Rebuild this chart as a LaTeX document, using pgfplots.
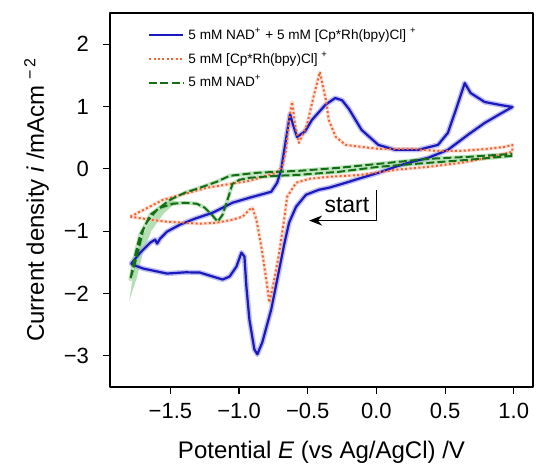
\documentclass[border=0pt]{standalone}
\usepackage{fontspec}
\setmainfont{Liberation Sans}
\usepackage{pgfplots}
\pgfplotsset{compat=1.18}
\usetikzlibrary{arrows.meta}

\definecolor{cvblue}{RGB}{25,25,190}
\definecolor{cvblueband}{RGB}{165,165,235}
\definecolor{cvorange}{RGB}{240,100,50}
\definecolor{cvgreen}{RGB}{20,110,20}
\definecolor{cvgreenband}{RGB}{130,200,130}

% NAD+ + Rh complex
\pgfplotstableread{
x y
0.014 -0.064
-0.108 -0.144
-0.224 -0.224
-0.347 -0.304
-0.419 -0.336
-0.513 -0.416
-0.585 -0.608
-0.636 -0.864
-0.672 -1.216
-0.708 -1.616
-0.766 -2.256
-0.831 -2.784
-0.867 -2.976
-0.889 -2.896
-0.925 -2.416
-0.947 -1.888
-0.961 -1.408
-0.983 -1.344
-1.019 -1.568
-1.069 -1.728
-1.120 -1.776
-1.192 -1.728
-1.286 -1.664
-1.390 -1.660
-1.525 -1.680
-1.698 -1.600
-1.777 -1.536
-1.785 -1.520
-1.720 -1.344
-1.647 -1.184
-1.611 -1.136
-1.597 -1.200
-1.575 -1.120
-1.525 -1.008
-1.431 -0.896
-1.322 -0.800
-1.192 -0.704
-1.048 -0.544
-0.925 -0.464
-0.766 -0.368
-0.723 -0.224
-0.694 -0.016
-0.665 0.384
-0.629 0.880
-0.607 0.704
-0.578 0.512
-0.520 0.600
-0.470 0.784
-0.370 1.030
-0.300 1.136
-0.250 1.100
-0.200 0.960
-0.108 0.624
0.014 0.384
0.137 0.304
0.303 0.304
0.448 0.384
0.520 0.576
0.578 0.944
0.643 1.376
0.686 1.216
0.788 1.072
0.903 1.024
0.990 0.992
0.900 0.880
0.788 0.736
0.665 0.544
0.520 0.304
0.376 0.176
0.231 0.096
0.137 0.032
0.014 -0.064
}\bluedata

% Rh complex only
\pgfplotstableread{
x y
-1.792 -0.768
-1.553 -0.496
-1.236 -0.304
-0.925 -0.192
-0.730 -0.064
-0.686 0.032
-0.658 0.304
-0.636 0.784
-0.614 1.072
-0.592 0.704
-0.564 0.416
-0.506 0.704
-0.455 1.184
-0.412 1.552
-0.368 1.104
-0.347 0.784
-0.296 0.512
-0.224 0.384
-0.108 0.352
0.014 0.320
0.253 0.320
0.448 0.288
0.614 0.288
0.809 0.320
0.932 0.352
0.990 0.384
0.990 0.272
0.809 0.176
0.614 0.096
0.376 0.032
0.137 -0.016
-0.108 -0.096
-0.347 -0.128
-0.491 -0.160
-0.585 -0.224
-0.650 -0.448
-0.672 -0.816
-0.708 -1.344
-0.744 -1.776
-0.780 -2.144
-0.802 -1.776
-0.838 -1.248
-0.874 -0.816
-0.903 -0.624
-0.925 -0.656
-0.975 -0.768
-1.048 -0.816
-1.163 -0.864
-1.286 -0.880
-1.525 -0.848
-1.647 -0.816
-1.792 -0.768
}\orangedata

% NAD+ only
\pgfplotstableread{
x y
0.990 0.208
0.665 0.144
0.376 0.096
0.014 0.032
-0.275 -0.048
-0.564 -0.096
-0.730 -0.112
-0.925 -0.144
-0.997 -0.176
-1.048 -0.240
-1.084 -0.496
-1.120 -0.736
-1.156 -0.848
-1.199 -0.736
-1.250 -0.624
-1.308 -0.560
-1.395 -0.544
-1.481 -0.560
-1.575 -0.624
-1.647 -0.736
-1.698 -0.976
-1.741 -1.376
-1.792 -1.776
-1.756 -1.376
-1.720 -1.056
-1.669 -0.848
-1.597 -0.656
-1.503 -0.496
-1.395 -0.384
-1.286 -0.304
-1.163 -0.208
-1.069 -0.112
-0.874 -0.064
-0.730 -0.048
-0.564 -0.032
-0.275 0.016
0.014 0.080
0.376 0.160
0.665 0.192
0.990 0.240
}\greendata

% spread of the NAD+ repeats near the switching potential
\pgfplotstableread{
x y
-1.800 -2.120
-1.765 -1.600
-1.725 -1.200
-1.665 -0.900
-1.585 -0.660
-1.500 -0.500
-1.450 -0.520
-1.550 -0.720
-1.640 -1.000
-1.700 -1.350
-1.745 -1.750
-1.800 -2.120
}\greenband

\begin{document}
\begin{tikzpicture}
\begin{axis}[
  scale only axis,
  width=211.5pt, height=187pt,
  xmin=-1.94, xmax=1.14, ymin=-3.5, ymax=2.5,
  xtick={-1.5,-1,-0.5,0,0.5,1},
  xticklabels={−1.5,−1.0,−0.5,0.0,0.5,1.0},
  ytick={-3,-2,-1,0,1,2},
  yticklabels={−3,−2,−1,0,1,2},
  tick align=outside,
  major tick length=3.5pt,
  xtick pos=bottom, ytick pos=left,
  xticklabel shift=1pt, yticklabel shift=3.5pt,
  tick style={black, line width=0.6pt},
  axis line style={line width=0.6pt},
  ticklabel style={font=\fontsize{11}{13}\selectfont},
  label style={font=\fontsize{12}{14}\selectfont},
  xlabel={Potential \textit{E} (vs Ag/AgCl) /V},
  ylabel={Current density \textit{i} /mAcm\textsuperscript{\hspace{0.35em}−\hspace{0.15em}2}},
  xlabel style={at={([yshift=-36pt]axis description cs:0.5,0)}, anchor=base},
  ylabel style={at={([xshift=-33pt]axis description cs:0,0.5)}, anchor=base, rotate=0},
  legend style={at={(axis description cs:0.075,0.983)}, anchor=north west,
    draw=none, fill=none, font=\fontsize{6.8}{8}\selectfont, row sep=0.65pt},
  legend cell align=left,
  line join=round,
]
% shaded spread
\addplot[fill=cvgreenband, draw=none, fill opacity=0.6, forget plot] table {\greenband};
\addplot[cvblueband, line width=2.6pt, opacity=0.7, forget plot] table {\bluedata};
\addplot[cvgreenband, line width=2.0pt, opacity=0.5, forget plot] table {\greendata};
\addplot[cvorange!35, line width=1.8pt, opacity=0.6, forget plot] table {\orangedata};
% mean curves
\addplot[cvblue, line width=1.1pt] table {\bluedata};
\addlegendentry{5 mM NAD\textsuperscript{+} + 5 mM [Cp*Rh(bpy)Cl] \textsuperscript{+}}
\addplot[cvorange, line width=1pt, dash pattern=on 1pt off 1.2pt] table {\orangedata};
\addlegendentry{5 mM [Cp*Rh(bpy)Cl] \textsuperscript{+}}
\addplot[cvgreen, line width=1pt, dash pattern=on 4pt off 1.6pt] table {\greendata};
\addlegendentry{5 mM NAD\textsuperscript{+}}
% scan direction
\draw[line width=0.6pt, -{Stealth[length=6.5pt,width=5pt]}]
  (axis cs:0,-0.336) -- (axis cs:0,-0.83) -- (axis cs:-0.49,-0.83);
\node[font=\fontsize{11.5}{13}\selectfont, inner sep=0pt] at (axis cs:-0.215,-0.58) {start};
\end{axis}
\pgfresetboundingbox
\path ([shift={(-55pt,-39.5pt)}]current axis.south west)
      ([shift={(2pt,6.5pt)}]current axis.north east);
\end{tikzpicture}
\end{document}
